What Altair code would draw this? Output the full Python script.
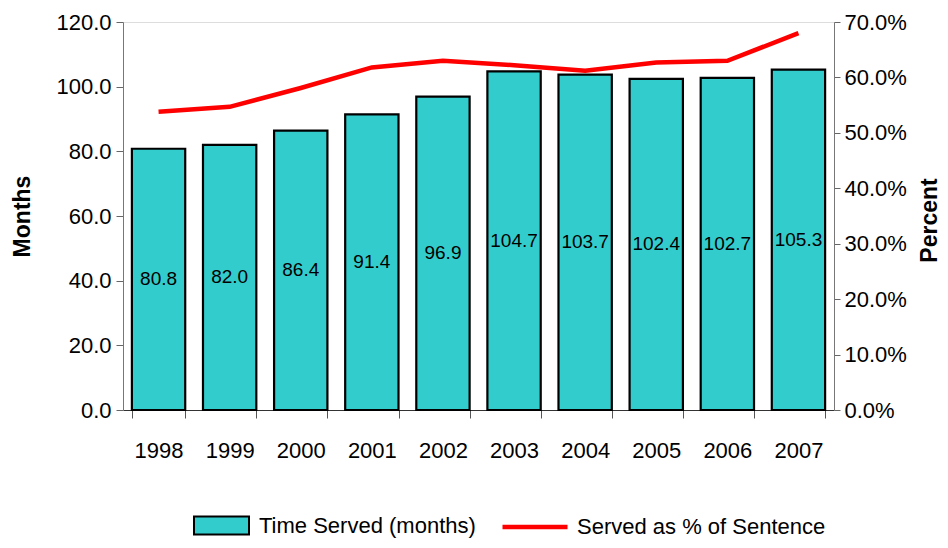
import altair as alt
import pandas as pd

years = ["1998", "1999", "2000", "2001", "2002", "2003", "2004", "2005", "2006", "2007"]
months = [80.8, 82.0, 86.4, 91.4, 96.9, 104.7, 103.7, 102.4, 102.7, 105.3]
pct = [53.8, 54.7, 58.1, 61.8, 63.0, 62.2, 61.2, 62.7, 63.0, 68.0]

bar_name = "Time Served (months)"
line_name = "Served as % of Sentence"

df = pd.DataFrame({
    "year": years,
    "months": months,
    "pct": [p / 100 for p in pct],
    "bar_series": [bar_name] * len(years),
    "line_series": [line_name] * len(years),
})

FONT = "Liberation Sans, Arial"

x = alt.X(
    "year:N",
    scale=alt.Scale(paddingInner=0.25, paddingOuter=0.125),
    axis=alt.Axis(
        title=None, labelAngle=0, labelFont=FONT, labelFontSize=22,
        labelColor="#000", tickBand="extent", tickSize=8, tickColor="#555",
        domainColor="#333", labelPadding=22,
    ),
)

base = alt.Chart(df)

bars = base.mark_bar(stroke="#000", strokeWidth=2.2).encode(
    x=x,
    y=alt.Y(
        "months:Q",
        scale=alt.Scale(domain=[0, 120], nice=False),
        axis=alt.Axis(
            title="Months", values=[0, 20, 40, 60, 80, 100, 120], format=".1f",
            labelFont=FONT, labelFontSize=22, labelColor="#000",
            tickSize=7, tickColor="#666", domainColor="#777", labelPadding=5,
            grid=False, titleFont=FONT, titleFontWeight="bold",
            titleFontSize=23, titleColor="#000", titleX=-101, titleY=194,
            titleAngle=270, titleBaseline="middle", titleAlign="center",
        ),
    ),
    fill=alt.Fill(
        "bar_series:N",
        scale=alt.Scale(domain=[bar_name], range=["#33CCCC"]),
        legend=alt.Legend(
            title=None, orient="none", legendX=70, legendY=475,
            symbolType="M-1,-0.33H1V0.33H-1Z", symbolSize=3025,
            symbolStrokeColor="#000", symbolStrokeWidth=2,
            labelFont=FONT, labelFontSize=22, labelColor="#000",
            labelOffset=9, labelLimit=0, padding=0,
        ),
    ),
)

labels = base.transform_calculate(mid="datum.months / 2").mark_text(
    font=FONT, fontSize=19, color="#000", baseline="middle"
).encode(
    x=alt.X("year:N"),
    y=alt.Y("mid:Q", scale=alt.Scale(domain=[0, 120], nice=False)),
    text=alt.Text("months:Q", format=".1f"),
)

left = alt.layer(bars, labels)

line = base.mark_line(strokeWidth=4.5).encode(
    x=alt.X("year:N"),
    y=alt.Y(
        "pct:Q",
        scale=alt.Scale(domain=[0, 0.7], nice=False),
        axis=alt.Axis(
            title="Percent", orient="right", values=[0, 0.1, 0.2, 0.3, 0.4, 0.5, 0.6, 0.7],
            format=".1%", labelFont=FONT, labelFontSize=22, labelColor="#000",
            tickSize=6, tickColor="#666", domainColor="#777", labelPadding=4,
            grid=False, titleFont=FONT, titleFontWeight="bold",
            titleFontSize=23, titleColor="#000", titleX=95, titleY=198,
            titleAngle=270, titleBaseline="middle", titleAlign="center",
        ),
    ),
    stroke=alt.Stroke(
        "line_series:N",
        scale=alt.Scale(domain=[line_name], range=["#FF0000"]),
        legend=alt.Legend(
            title=None, orient="none", legendX=377, legendY=470,
            symbolType="stroke", symbolSize=4225, symbolStrokeWidth=4.5,
            labelFont=FONT, labelFontSize=22, labelColor="#000",
            labelOffset=7, labelLimit=0, padding=0,
        ),
    ),
)

chart = alt.layer(left, line).resolve_scale(y="independent").properties(
    width=711,
    height=388,
    autosize=alt.AutoSizeParams(type="none"),
    padding={"left": 115, "top": 14, "right": 106, "bottom": 130},
).configure_view(stroke=None).configure(background="#ffffff")

chart.save("out.html", embed_options={"renderer": "svg", "actions": False})
